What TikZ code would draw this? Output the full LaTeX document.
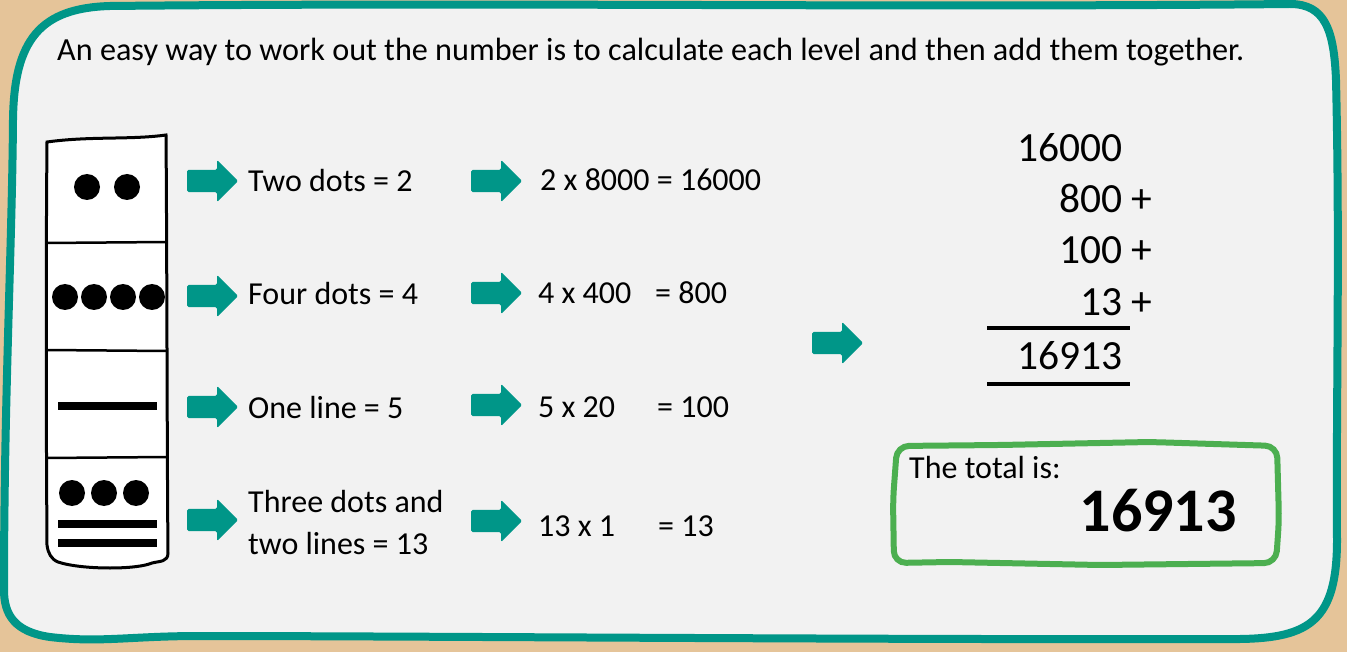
\documentclass[tikz,border=0pt]{standalone}
\usepackage{fontspec}
\setmainfont{Carlito}
\usetikzlibrary{shapes.arrows}
\definecolor{bgtan}{RGB}{229,196,153}
\definecolor{frameteal}{RGB}{0,150,136}
\definecolor{panel}{RGB}{242,242,242}
\definecolor{boxgreen}{RGB}{76,175,80}
\tikzset{
  blockarrow/.style={single arrow, fill=frameteal, draw=none, minimum height=51pt,
    single arrow head extend=10pt, inner xsep=0pt, inner ysep=11pt, rounded corners=1.5pt, anchor=tail},
  txt/.style={anchor=base west, inner sep=0pt, font=\fontsize{32}{38}\selectfont},
  sumnum/.style={anchor=base east, inner sep=0pt, font=\fontsize{41.5}{48}\selectfont},
  plus/.style={anchor=base west, inner sep=0pt, font=\fontsize{41.5}{48}\selectfont},
  dot/.style={circle, fill=black, minimum size=26pt, inner sep=0pt},
  bar/.style={fill=black, minimum width=99pt, minimum height=8pt, inner sep=0pt},
  rule/.style={line width=3.5pt},
  divider/.style={line width=2.5pt}
}
\begin{document}
\begin{tikzpicture}[x=1pt,y=-1pt]
\fill[bgtan] (0,0) rectangle (1347,652);
\useasboundingbox (0,0) rectangle (1347,652);
% main panel
\draw[frameteal, fill=panel, line width=8pt]
  (13,120) .. controls (14,40) and (40,8) .. (110,6)
  .. controls (500,2) and (900,8) .. (1290,4)
  .. controls (1325,4) and (1334,30) .. (1336,80)
  .. controls (1340,250) and (1336,400) .. (1337,540)
  .. controls (1337,620) and (1310,638) .. (1240,639)
  .. controls (900,640) and (400,636) .. (200,636)
  .. controls (130,636) and (100,643) .. (50,637)
  .. controls (15,632) and (4,615) .. (4,590)
  .. controls (4,400) and (12,250) .. (13,120) -- cycle;
% title
\node[anchor=base west, inner sep=0pt, font=\fontsize{32.2}{38}\selectfont] (title) at (57,61)
  {An easy way to work out the number is to calculate each level and then add them together.};
% Mayan numeral column
\draw[line width=3pt, fill=white]
  (47,142) .. controls (90,136) and (130,140) .. (166,135)
  .. controls (167,250) and (167,450) .. (168,553)
  .. controls (168,562) and (160,561) .. (152,563)
  .. controls (145,566) and (130,568) .. (110,568)
  .. controls (90,568) and (70,566) .. (58,562)
  .. controls (51,559) and (48,553) .. (47,545)
  .. controls (46,400) and (46,250) .. (47,142) -- cycle;
\draw[divider] (46,243) -- (167,242);
\draw[divider] (46,350) -- (167,351);
\draw[divider] (46,458) -- (168,457);
\node[dot] (d11) at (87,187) {};
\node[dot] (d12) at (127,187) {};
\node[dot] (d21) at (65,297) {};
\node[dot] (d22) at (94,297) {};
\node[dot] (d23) at (123,297) {};
\node[dot] (d24) at (152,297) {};
\node[bar] (b31) at (107.5,406) {};
\node[dot] (d41) at (72,493) {};
\node[dot] (d42) at (104,493) {};
\node[dot] (d43) at (136,493) {};
\node[bar] (b41) at (107.5,524) {};
\node[bar] (b42) at (107.5,543) {};
% arrows column 1
\node[blockarrow] (a1) at (187,181) {};
\node[blockarrow] (a2) at (187,296) {};
\node[blockarrow] (a3) at (187,407) {};
\node[blockarrow] (a4) at (187,520) {};
% level texts
\node[txt] (t1) at (248,192) {Two dots = 2};
\node[txt] (t2) at (248,305) {Four dots = 4};
\node[txt] (t3) at (248,418) {One line = 5};
\node[txt] (t4a) at (248,512) {Three dots and};
\node[txt] (t4b) at (248,554) {two lines = 13};
% arrows column 2
\node[blockarrow] (c1) at (471,181) {};
\node[blockarrow] (c2) at (471,293) {};
\node[blockarrow] (c3) at (471,405) {};
\node[blockarrow] (c4) at (471,521) {};
% calculations
\node[txt] (m1) at (540,191) {2 x 8000 = 16000};
\node[txt] (m2) at (538,304) {4 x 400};
\node[txt] (r2) at (655,304) {= 800};
\node[txt] (m3) at (538,417) {5 x 20};
\node[txt] (r3) at (657,417) {= 100};
\node[txt] (m4) at (538,536) {13 x 1};
\node[txt] (r4) at (658,536) {= 13};
% middle arrow
\node[blockarrow] (mid) at (812,343) {};
% sum
\node[sumnum] (s1) at (1123,161.5) {16000};
\node[sumnum] (s2) at (1123,212.5) {800};
\node[sumnum] (s3) at (1123,264) {100};
\node[sumnum] (s4) at (1123,316) {13};
\node[plus] (p2) at (1131,212.5) {+};
\node[plus] (p3) at (1131,264) {+};
\node[plus] (p4) at (1131,316) {+};
\draw[rule] (987,328) -- (1130,328);
\node[sumnum] (s5) at (1123,370) {16913};
\draw[rule] (987,384) -- (1130,384);
% total box
\draw[boxgreen, line width=6pt, rounded corners=12pt]
  (897,446) -- (1000,445) -- (1150,442) -- (1277,446) -- (1279,520) -- (1276,563)
  -- (1100,565) -- (950,562) -- (894,563) -- (893,500) -- cycle;
\node[txt] (tot) at (909,478) {The total is:};
\node[anchor=base east, inner sep=0pt, font=\fontsize{62}{70}\selectfont\bfseries] (totnum) at (1237,531) {16913};
\end{tikzpicture}
\end{document}
